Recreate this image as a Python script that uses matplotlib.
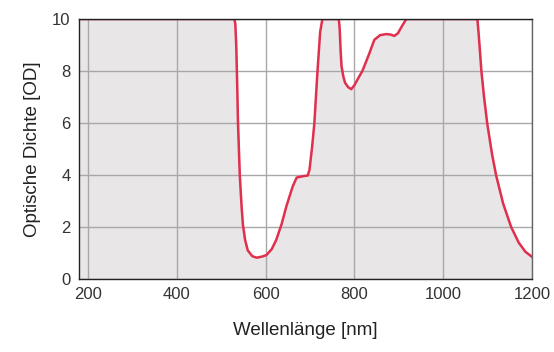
import matplotlib.pyplot as plt

plt.rcParams['font.family'] = ['Liberation Sans', 'DejaVu Sans']

# Optical density curve
wavelength = [180, 300, 450, 530, 532, 534, 536, 538, 542, 546, 549, 554, 560, 570,
              580, 592, 602, 614, 624, 636, 647, 661, 670, 683, 695, 699, 705, 710,
              717, 723, 728, 745, 765, 767, 769, 771, 775, 779, 786, 793, 800, 808,
              818, 832, 845, 858, 872, 882, 890, 898, 908, 917, 1000, 1077, 1080,
              1086, 1092, 1099, 1110, 1119, 1135, 1153, 1170, 1185, 1200]
optical_density = [10, 10, 10, 10, 9.8, 9.0, 7.6, 6, 4, 2.8, 2.1, 1.5, 1.1, 0.88,
                   0.82, 0.86, 0.92, 1.15, 1.5, 2.1, 2.8, 3.55, 3.9, 3.95, 3.98, 4.2,
                   5.1, 6, 8, 9.5, 10, 10, 10, 9.6, 8.8, 8.2, 7.8, 7.55, 7.38, 7.3,
                   7.45, 7.7, 8, 8.6, 9.2, 9.38, 9.42, 9.4, 9.35, 9.45, 9.75, 10, 10,
                   10, 9.4, 8, 7, 6, 4.8, 4, 2.9, 2, 1.4, 1.05, 0.85]

fig = plt.figure(figsize=(5.54, 3.52), dpi=100)
ax = fig.add_axes([0.1426, 0.2074, 0.8177, 0.7386])

ax.fill_between(wavelength, optical_density, 0, color='#e8e6e7', zorder=1)
ax.plot(wavelength, optical_density, color='#e0304e', lw=1.8, zorder=3,
        solid_joinstyle='round')

ax.set_xlim(180, 1200)
ax.set_ylim(0, 10)
ax.set_xticks([200, 400, 600, 800, 1000, 1200])
ax.set_yticks([0, 2, 4, 6, 8, 10])
ax.grid(True, color='#a8a8a8', lw=1.0, zorder=2)
ax.set_axisbelow(False)
ax.tick_params(length=0, labelsize=12, colors='#333333', pad=6)

for side in ['left', 'bottom', 'top']:
    ax.spines[side].set_color('#222222')
    ax.spines[side].set_linewidth(1.0)
ax.spines['right'].set_color('#666666')
ax.spines['right'].set_linewidth(1.0)
for s in ax.spines.values():
    s.set_zorder(4)

ax.set_xlabel('Wellenlänge [nm]', fontsize=13.5, color='#222222', labelpad=14)
ax.set_ylabel('Optische Dichte [OD]', fontsize=13.5, color='#222222', labelpad=8)

fig.savefig('out.png', dpi=100)
